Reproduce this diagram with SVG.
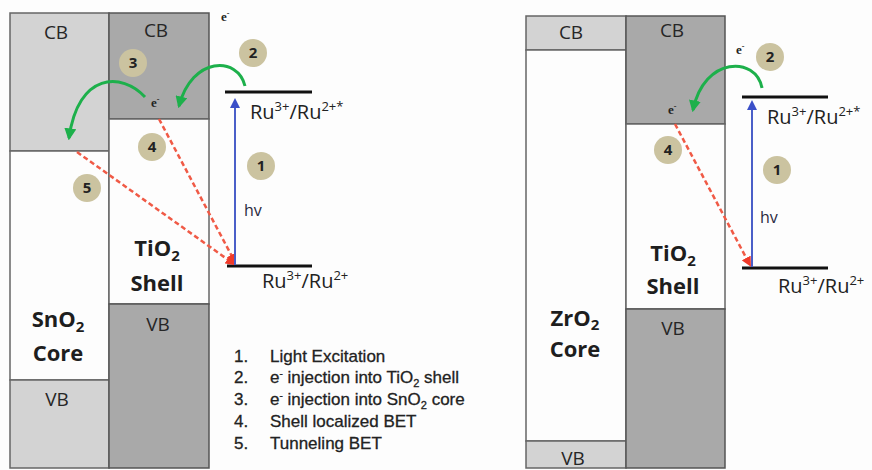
<svg xmlns="http://www.w3.org/2000/svg" width="872" height="470" viewBox="0 0 872 470">
<defs>
<style>
.lab{font-family:"Open Sans","Liberation Sans",sans-serif;font-size:19px;fill:#262626;text-anchor:middle}
.big{font-family:"Open Sans","Liberation Sans",sans-serif;font-size:22px;font-weight:bold;fill:#1e1e1e;text-anchor:middle}
.ru{font-family:"Open Sans","Liberation Sans",sans-serif;font-size:20px;fill:#222}
.hv{font-family:"Open Sans","Liberation Sans",sans-serif;font-size:16px;fill:#2a2a40}
.leg{font-family:"Liberation Sans",sans-serif;font-size:17px;fill:#222;stroke:#222;stroke-width:0.3}
.num{font-family:"Open Sans","Liberation Sans",sans-serif;font-size:15px;font-weight:bold;fill:#222;text-anchor:middle}
.e{font-family:"Liberation Serif",serif;font-size:13px;font-weight:bold;fill:#222}
.light{fill:#d3d3d3;stroke:#666;stroke-width:1.5}
.dark{fill:#a9a9a9;stroke:#555;stroke-width:1.5}
.white{fill:#fdfdfd;stroke:#666;stroke-width:1.5}
.circ{fill:#cbc3a0}
.green{fill:none;stroke:#1db04b;stroke-width:3}
.red{fill:none;stroke:#f05a46;stroke-width:2.5;stroke-dasharray:5 3}
.blue{stroke:#4a5fc8;stroke-width:2}
.lvl{stroke:#111;stroke-width:3}
</style>
<marker id="ag" viewBox="0 0 10 10" refX="8" refY="5" markerWidth="4" markerHeight="4" orient="auto" markerUnits="strokeWidth"><path d="M0,0 L10,5 L0,10 z" fill="#1db04b"/></marker>
<marker id="ar" viewBox="0 0 10 10" refX="8" refY="5" markerWidth="4" markerHeight="4" orient="auto" markerUnits="strokeWidth"><path d="M0,0 L10,5 L0,10 z" fill="#f03a2a"/></marker>
<marker id="ab" viewBox="0 0 10 10" refX="8" refY="5" markerWidth="5" markerHeight="5" orient="auto" markerUnits="strokeWidth"><path d="M0,0 L10,5 L0,10 z" fill="#3a4fc8"/></marker>
</defs>
<rect width="872" height="470" fill="#fdfdfd"/>

<!-- Left panel -->
<g id="sno2-core">
<rect class="light" x="10" y="13" width="99" height="138"/>
<rect class="white" x="10" y="151" width="99" height="229"/>
<rect class="light" x="10" y="380" width="99" height="88"/>
<text class="lab" x="56" y="39">CB</text>
<text class="big" x="58" y="327">SnO<tspan font-size="15" dy="5">2</tspan></text>
<text class="big" x="58" y="361">Core</text>
<text class="lab" x="57" y="406">VB</text>
</g>
<g id="tio2-shell-left">
<rect class="dark" x="109" y="13" width="100" height="106"/>
<rect class="white" x="109" y="119" width="100" height="185"/>
<rect class="dark" x="109" y="304" width="100" height="164"/>
<text class="lab" x="156" y="37">CB</text>
<text class="e" x="151" y="107">e<tspan font-size="8" dy="-5">-</tspan></text>
<text class="big" x="157" y="256">TiO<tspan font-size="15" dy="5">2</tspan></text>
<text class="big" x="157" y="291">Shell</text>
<text class="lab" x="158" y="331">VB</text>
</g>
<g id="ru-left">
<line class="lvl" x1="225" y1="92" x2="312" y2="92"/>
<text class="ru" x="250" y="119">Ru<tspan font-size="13" dy="-8">3+</tspan><tspan dy="8">/Ru</tspan><tspan font-size="13" dy="-8">2+*</tspan></text>
<line class="lvl" x1="227" y1="266" x2="312" y2="266"/>
<text class="ru" x="262" y="288">Ru<tspan font-size="13" dy="-8">3+</tspan><tspan dy="8">/Ru</tspan><tspan font-size="13" dy="-8">2+</tspan></text>
<text class="hv" x="244" y="216">hv</text>
<text class="e" x="221" y="21">e<tspan font-size="8" dy="-5">-</tspan></text>
</g>
<g id="circles-left">
<circle class="circ" cx="133" cy="63" r="14"/><text class="num" x="133" y="68">3</text>
<circle class="circ" cx="253" cy="53" r="14"/><text class="num" x="253" y="58">2</text>
<circle class="circ" cx="152" cy="147" r="14"/><text class="num" x="152" y="152">4</text>
<circle class="circ" cx="87" cy="188" r="14"/><text class="num" x="87" y="193">5</text>
<circle class="circ" cx="261" cy="166" r="14"/><text class="num" x="261" y="171">1</text>
</g>
<g id="legend">
<text class="leg" x="234" y="362">1.</text><text class="leg" x="270" y="362">Light Excitation</text>
<text class="leg" x="234" y="383">2.</text><text class="leg" x="270" y="383">e<tspan font-size="10" dy="-6">-</tspan><tspan dy="6"> injection into TiO</tspan><tspan font-size="11" dy="4">2</tspan><tspan dy="-4"> shell</tspan></text>
<text class="leg" x="234" y="405">3.</text><text class="leg" x="270" y="405">e<tspan font-size="10" dy="-6">-</tspan><tspan dy="6"> injection into SnO</tspan><tspan font-size="11" dy="4">2</tspan><tspan dy="-4"> core</tspan></text>
<text class="leg" x="234" y="427">4.</text><text class="leg" x="270" y="427">Shell localized BET</text>
<text class="leg" x="234" y="449">5.</text><text class="leg" x="270" y="449">Tunneling BET</text>
</g>

<!-- Right panel -->
<g id="zro2-core">
<rect class="light" x="526" y="16" width="100" height="34"/>
<rect class="white" x="526" y="50" width="100" height="391"/>
<rect class="light" x="526" y="441" width="100" height="27"/>
<text class="lab" x="571" y="39">CB</text>
<text class="big" x="575" y="326">ZrO<tspan font-size="15" dy="4">2</tspan></text>
<text class="big" x="575" y="357">Core</text>
<text class="lab" x="573" y="465">VB</text>
</g>
<g id="tio2-shell-right">
<rect class="dark" x="626" y="16" width="99" height="108"/>
<rect class="white" x="626" y="124" width="99" height="185"/>
<rect class="dark" x="626" y="309" width="99" height="159"/>
<text class="lab" x="672" y="37">CB</text>
<text class="e" x="668" y="114">e<tspan font-size="8" dy="-5">-</tspan></text>
<text class="big" x="673" y="261">TiO<tspan font-size="15" dy="5">2</tspan></text>
<text class="big" x="673" y="294">Shell</text>
<text class="lab" x="673" y="335">VB</text>
</g>
<g id="ru-right">
<line class="lvl" x1="742" y1="97" x2="828" y2="97"/>
<text class="ru" x="767" y="124">Ru<tspan font-size="13" dy="-8">3+</tspan><tspan dy="8">/Ru</tspan><tspan font-size="13" dy="-8">2+*</tspan></text>
<line class="lvl" x1="742" y1="268" x2="828" y2="268"/>
<text class="ru" x="778" y="293">Ru<tspan font-size="13" dy="-8">3+</tspan><tspan dy="8">/Ru</tspan><tspan font-size="13" dy="-8">2+</tspan></text>
<text class="hv" x="760" y="223">hv</text>
<text class="e" x="736" y="54">e<tspan font-size="8" dy="-5">-</tspan></text>
</g>
<g id="circles-right">
<circle class="circ" cx="770" cy="57" r="14"/><text class="num" x="770" y="62">2</text>
<circle class="circ" cx="668" cy="150" r="14"/><text class="num" x="668" y="155">4</text>
<circle class="circ" cx="777" cy="170" r="14"/><text class="num" x="777" y="175">1</text>
</g>

<g id="connectors">
<path class="green" d="M245,86 C238,56 192,56 179,106" marker-end="url(#ag)"/>
<path class="green" d="M145,97 C122,72 78,72 69,138" marker-end="url(#ag)"/>
<path class="red" d="M77,152 L234,264" marker-end="url(#ar)"/>
<path class="red" d="M159,119 L235,262" marker-end="url(#ar)"/>
<line class="blue" x1="235" y1="265" x2="235" y2="100" marker-end="url(#ab)"/>
<path class="green" d="M762,88 C756,56 704,56 693,110" marker-end="url(#ag)"/>
<path class="red" d="M675,124 L750,265" marker-end="url(#ar)"/>
<line class="blue" x1="752" y1="267" x2="752" y2="102" marker-end="url(#ab)"/>
</g>
</svg>
